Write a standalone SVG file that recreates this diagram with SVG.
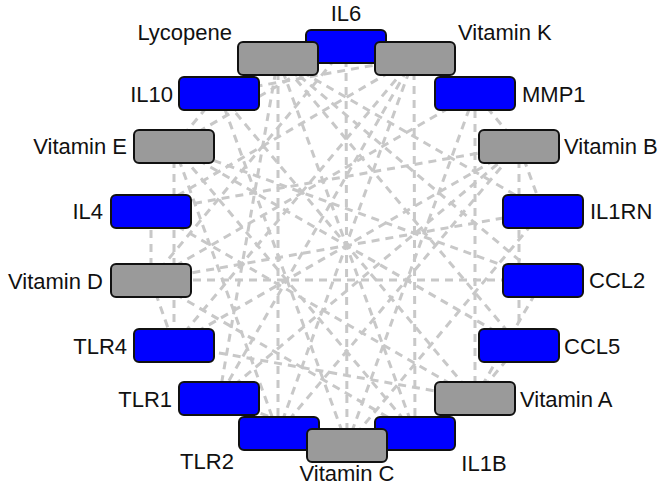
<svg xmlns="http://www.w3.org/2000/svg" width="666" height="488" viewBox="0 0 666 488">
<style>
.e{stroke:#c8c8c8;stroke-width:3;stroke-dasharray:8 6;fill:none}
.g rect{stroke:#111;stroke-width:2}
.b{fill:#0000ff}
.v{fill:#9a9a9a}
text{font-family:"Liberation Sans",Arial,sans-serif;font-size:22px;fill:#111}
</style>
<rect width="666" height="488" fill="#fff"/>
<g id="edges">
<!-- Lycopene -->
<line class="e" x1="278" y1="58" x2="219" y2="93"/>
<line class="e" x1="278" y1="58" x2="278" y2="433"/>
<line class="e" x1="278" y1="58" x2="415" y2="433"/>
<line class="e" x1="278" y1="58" x2="219" y2="398"/>
<line class="e" x1="278" y1="58" x2="543" y2="280"/>
<line class="e" x1="278" y1="58" x2="543" y2="211"/>
<line class="e" x1="278" y1="58" x2="519" y2="345"/>
<!-- Vitamin K -->
<line class="e" x1="414" y1="58" x2="415" y2="433"/>
<line class="e" x1="414" y1="58" x2="278" y2="433"/>
<line class="e" x1="414" y1="58" x2="475" y2="93"/>
<line class="e" x1="414" y1="58" x2="219" y2="398"/>
<line class="e" x1="414" y1="58" x2="151" y2="211"/>
<line class="e" x1="414" y1="58" x2="174" y2="345"/>
<line class="e" x1="414" y1="58" x2="219" y2="93"/>
<!-- Vitamin B -->
<line class="e" x1="519" y1="146" x2="475" y2="93"/>
<line class="e" x1="519" y1="146" x2="543" y2="211"/>
<line class="e" x1="519" y1="146" x2="519" y2="345"/>
<line class="e" x1="519" y1="146" x2="219" y2="398"/>
<line class="e" x1="519" y1="146" x2="174" y2="345"/>
<line class="e" x1="519" y1="146" x2="151" y2="211"/>
<line class="e" x1="519" y1="146" x2="278" y2="433"/>
<!-- Vitamin A -->
<line class="e" x1="475" y1="398" x2="219" y2="93"/>
<line class="e" x1="475" y1="398" x2="475" y2="93"/>
<line class="e" x1="475" y1="398" x2="415" y2="433"/>
<line class="e" x1="475" y1="398" x2="519" y2="345"/>
<line class="e" x1="475" y1="398" x2="174" y2="345"/>
<line class="e" x1="475" y1="398" x2="151" y2="211"/>
<line class="e" x1="475" y1="398" x2="543" y2="280"/>
<!-- Vitamin C -->
<line class="e" x1="347" y1="445" x2="346" y2="46"/>
<line class="e" x1="347" y1="445" x2="415" y2="433"/>
<line class="e" x1="347" y1="445" x2="278" y2="433"/>
<line class="e" x1="347" y1="445" x2="219" y2="398"/>
<line class="e" x1="347" y1="445" x2="219" y2="93"/>
<line class="e" x1="347" y1="445" x2="475" y2="93"/>
<line class="e" x1="347" y1="445" x2="543" y2="211"/>
<!-- Vitamin D -->
<line class="e" x1="151" y1="280" x2="543" y2="280"/>
<line class="e" x1="151" y1="280" x2="543" y2="211"/>
<line class="e" x1="151" y1="280" x2="151" y2="211"/>
<line class="e" x1="151" y1="280" x2="174" y2="345"/>
<line class="e" x1="151" y1="280" x2="346" y2="46"/>
<line class="e" x1="151" y1="280" x2="475" y2="93"/>
<line class="e" x1="151" y1="280" x2="415" y2="433"/>
<!-- Vitamin E -->
<line class="e" x1="174" y1="146" x2="543" y2="280"/>
<line class="e" x1="174" y1="146" x2="519" y2="345"/>
<line class="e" x1="174" y1="146" x2="219" y2="93"/>
<line class="e" x1="174" y1="146" x2="346" y2="46"/>
<line class="e" x1="174" y1="146" x2="278" y2="433"/>
<line class="e" x1="174" y1="146" x2="415" y2="433"/>
<line class="e" x1="174" y1="146" x2="174" y2="345"/>
</g>
<g id="IL6" class="g"><rect class="b" x="306" y="30" width="80" height="33" rx="5"/><text x="346" y="21" text-anchor="middle">IL6</text></g>
<g id="Lycopene" class="g"><rect class="v" x="238" y="42" width="80" height="33" rx="5"/><text x="232" y="40" text-anchor="end">Lycopene</text></g>
<g id="VitaminK" class="g"><rect class="v" x="375" y="42" width="80" height="33" rx="5"/><text x="458" y="40">Vitamin K</text></g>
<g id="IL10" class="g"><rect class="b" x="179" y="77" width="80" height="33" rx="5"/><text x="173" y="102" text-anchor="end">IL10</text></g>
<g id="MMP1" class="g"><rect class="b" x="435" y="77" width="80" height="33" rx="5"/><text x="522" y="102">MMP1</text></g>
<g id="VitaminE" class="g"><rect class="v" x="134" y="130" width="80" height="33" rx="5"/><text x="127" y="154" text-anchor="end">Vitamin E</text></g>
<g id="VitaminB" class="g"><rect class="v" x="479" y="130" width="80" height="33" rx="5"/><text x="564" y="154">Vitamin B</text></g>
<g id="IL4" class="g"><rect class="b" x="111" y="195" width="80" height="33" rx="5"/><text x="103" y="219" text-anchor="end">IL4</text></g>
<g id="IL1RN" class="g"><rect class="b" x="503" y="195" width="80" height="33" rx="5"/><text x="590" y="219">IL1RN</text></g>
<g id="VitaminD" class="g"><rect class="v" x="111" y="264" width="80" height="33" rx="5"/><text x="103" y="289" text-anchor="end">Vitamin D</text></g>
<g id="CCL2" class="g"><rect class="b" x="503" y="264" width="80" height="33" rx="5"/><text x="589" y="288">CCL2</text></g>
<g id="TLR4" class="g"><rect class="b" x="134" y="329" width="80" height="33" rx="5"/><text x="127" y="354" text-anchor="end">TLR4</text></g>
<g id="CCL5" class="g"><rect class="b" x="479" y="329" width="80" height="33" rx="5"/><text x="564" y="354">CCL5</text></g>
<g id="TLR1" class="g"><rect class="b" x="179" y="382" width="80" height="33" rx="5"/><text x="172" y="407" text-anchor="end">TLR1</text></g>
<g id="VitaminA" class="g"><rect class="v" x="435" y="382" width="80" height="33" rx="5"/><text x="520" y="407">Vitamin A</text></g>
<g id="TLR2" class="g"><rect class="b" x="239" y="417" width="80" height="33" rx="5"/><text x="207" y="469" text-anchor="middle">TLR2</text></g>
<g id="IL1B" class="g"><rect class="b" x="375" y="417" width="80" height="33" rx="5"/><text x="484" y="471" text-anchor="middle">IL1B</text></g>
<g id="VitaminC" class="g"><rect class="v" x="307" y="429" width="80" height="33" rx="5"/><text x="347" y="481" text-anchor="middle">Vitamin C</text></g>
</svg>
